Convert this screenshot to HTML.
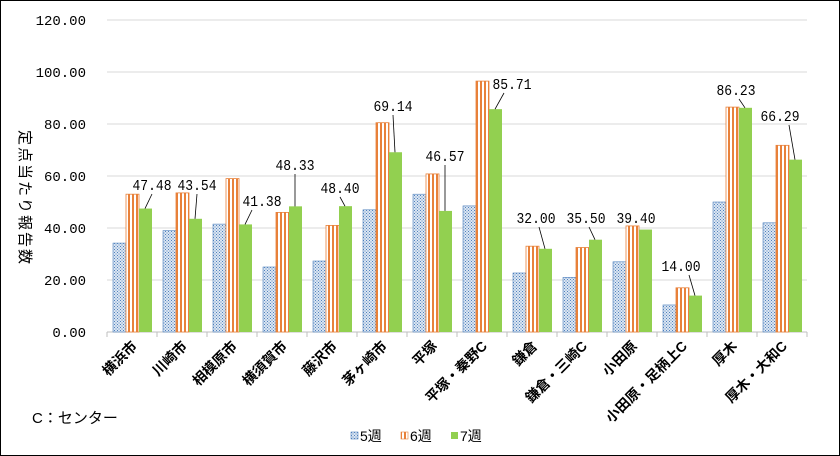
<!DOCTYPE html>
<html><head><meta charset="utf-8"><style>
html,body{margin:0;padding:0;background:#fff;}
svg{display:block;font-family:"Liberation Mono","Noto Sans CJK JP",monospace;}
</style></head><body>
<svg id="s" width="840" height="456" xmlns="http://www.w3.org/2000/svg">
<defs>
<pattern id="p5" width="3" height="3" patternUnits="userSpaceOnUse"><rect width="3" height="3" fill="#dce6f2"/><rect width="1" height="1" fill="#4f81bd"/><rect x="1.5" y="1.5" width="1" height="1" fill="#4f81bd"/></pattern>
<pattern id="p6" width="4" height="4" patternUnits="userSpaceOnUse"><rect width="4" height="4" fill="#fff"/><rect width="2" height="4" fill="#e8813a"/></pattern>
</defs>
<rect x="0.5" y="0.5" width="839" height="455" fill="#fff" stroke="#000"/>
<g id="g"></g>
</svg>
<script>
var g=document.getElementById('g');var h='';
function Y(v){return 332-2.6*v;}
for(var i=0;i<=6;i++){var y=Y(i*20);
 if(i>0)h+='<line x1="107" x2="807" y1="'+y+'" y2="'+y+'" stroke="#d9d9d9"/>';
 h+='<text x="86" y="'+(y+5)+'" font-size="14" text-anchor="end">'+(i*20).toFixed(2)+'</text>';}
h+='<line x1="107" x2="807" y1="332" y2="332" stroke="#bfbfbf"/>';
for(var i=0;i<=14;i++)h+='<line x1="'+(107+50*i)+'" x2="'+(107+50*i)+'" y1="332" y2="337" stroke="#bfbfbf"/>';
var cats=["横浜市","川崎市","相模原市","横須賀市","藤沢市","茅ヶ崎市","平塚","平塚・秦野C","鎌倉","鎌倉・三崎C","小田原","小田原・足柄上C","厚木","厚木・大和C"];
var a=[34.2,39,41.5,25,27.3,47,53,48.5,22.7,21,27,10.4,50,42];
var b=[53,53.5,59,46,41,80.5,60.8,96.5,33,32.5,40.8,17,86.5,71.8];
var c=[47.48,43.54,41.38,48.33,48.40,69.14,46.57,85.71,32.00,35.50,39.40,14.00,86.23,66.29];
var lp=[[152,184],[197,184],[262,200],[295,164],[340,187],[393,105],[445,155],[512,83],[536,217],[586,217],[636,217],[681,265],[736,89],[780,115]];
for(var i=0;i<14;i++){var x=107+50*i;
 h+='<rect x="'+(x+6)+'" y="'+Y(a[i])+'" width="13" height="'+(2.6*a[i])+'" fill="url(#p5)" stroke="#4f81bd" stroke-width="0.6"/>';
 h+='<rect x="'+(x+19)+'" y="'+Y(b[i])+'" width="13" height="'+(2.6*b[i])+'" fill="url(#p6)" stroke="#e8813a" stroke-width="0.8"/>';
 h+='<rect x="'+(x+32)+'" y="'+Y(c[i])+'" width="13" height="'+(2.6*c[i])+'" fill="#92d050"/>';
 var L=lp[i];h+='<text x="'+L[0]+'" y="'+(L[1]+6)+'" font-size="15" text-anchor="middle" textLength="39" lengthAdjust="spacingAndGlyphs">'+c[i].toFixed(2)+'</text>';
 var ty=Y(c[i]);
 if(ty-(L[1]+10)>4){var lx=Math.max(Math.min(L[0],x+45),x+32);
  h+='<line x1="'+(i==7?L[0]-8:lx)+'" y1="'+(L[1]+10)+'" x2="'+(x+38)+'" y2="'+ty+'" stroke="#000" stroke-width="0.8"/>';}
 h+='<text transform="translate('+(x+31)+',347) rotate(-45)" font-size="14" font-weight="bold" text-anchor="end" font-family="Liberation Sans,Noto Sans CJK JP,sans-serif">'+cats[i]+'</text>';}
h+='<text transform="translate(20,130) rotate(90)" font-size="15" font-family="Liberation Sans,Noto Sans CJK JP,sans-serif" letter-spacing="2">定点当たり報告数</text>';
h+='<text x="32" y="423" font-size="15" font-family="Liberation Sans,Noto Sans CJK JP,sans-serif">C：センター</text>';
h+='<rect x="351" y="432" width="7" height="7" fill="url(#p5)" stroke="#4f81bd" stroke-width="0.6"/><text x="360" y="441" font-size="14" font-family="Liberation Sans,Noto Sans CJK JP,sans-serif">5週</text>';
h+='<rect x="401" y="432" width="7" height="7" fill="url(#p6)" stroke="#e8813a" stroke-width="0.6"/><text x="410" y="441" font-size="14" font-family="Liberation Sans,Noto Sans CJK JP,sans-serif">6週</text>';
h+='<rect x="451" y="432" width="7" height="7" fill="#92d050"/><text x="460" y="441" font-size="14" font-family="Liberation Sans,Noto Sans CJK JP,sans-serif">7週</text>';
g.innerHTML=h;
</script>
</body></html>
